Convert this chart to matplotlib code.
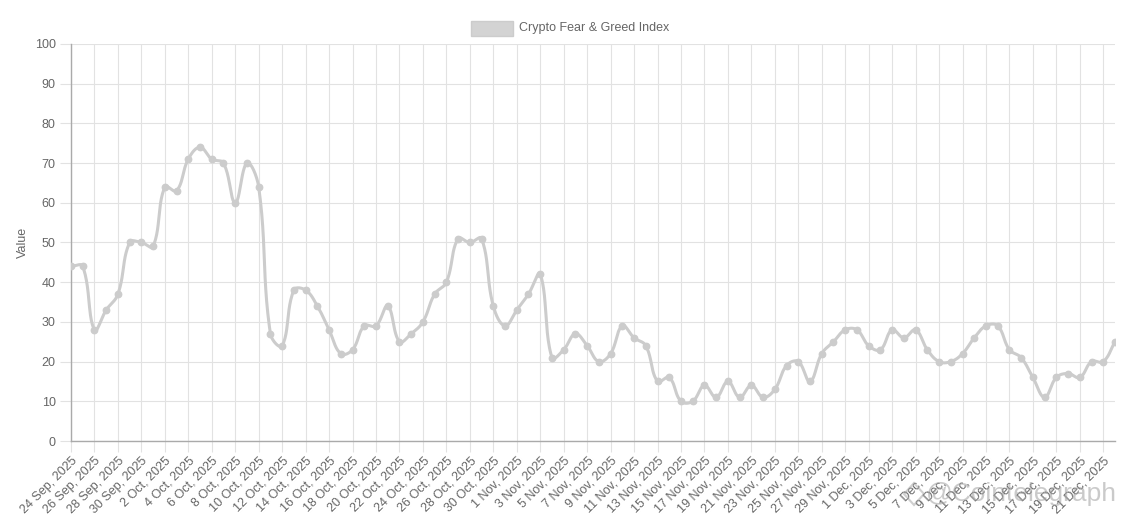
import numpy as np
import pandas as pd
import matplotlib
matplotlib.use("Agg")
import matplotlib.pyplot as plt
from matplotlib.patches import Rectangle, Polygon

plt.rcParams['font.family'] = ['Liberation Sans', 'DejaVu Sans']

# daily index values, 24 Sep 2025 .. 22 Dec 2025
dates = pd.date_range("2025-09-24", periods=90, freq="D")
values = [44, 44, 28, 33, 37, 50, 50, 49, 64, 63,
          71, 74, 71, 70, 60, 70, 64, 27, 24, 38,
          38, 34, 28, 22, 23, 29, 29, 34, 25, 27,
          30, 37, 40, 51, 50, 51, 34, 29, 33, 37,
          42, 21, 23, 27, 24, 20, 22, 29, 26, 24,
          15, 16, 10, 10, 14, 11, 15, 11, 14, 11,
          13, 19, 20, 15, 22, 25, 28, 28, 24, 23,
          28, 26, 28, 23, 20, 20, 22, 26, 29, 29,
          23, 21, 16, 11, 16, 17, 16, 20, 20, 25]
labels = [f"{d.day} {d.strftime('%b')}, {d.year}" for d in dates]
series_name = "Crypto Fear & Greed Index"

line_col = "#cccccc"
text_col = "#666666"
grid_col = "#e2e2e2"
axis_col = "#aaaaaa"


def chartjs_spline(px, py, t=0.4):
	# bezier control points like chart.js (tension 0.4), in pixel space
	n = len(px)
	cprev = np.zeros((n, 2))
	cnext = np.zeros((n, 2))
	for i in range(n):
		a = max(i - 1, 0)
		b = min(i + 1, n - 1)
		d01 = np.hypot(px[i] - px[a], py[i] - py[a])
		d12 = np.hypot(px[b] - px[i], py[b] - py[i])
		tot = d01 + d12
		s01 = d01 / tot if tot else 0
		s12 = d12 / tot if tot else 0
		fa, fb = t * s01, t * s12
		cprev[i] = (px[i] - fa * (px[b] - px[a]), py[i] - fa * (py[b] - py[a]))
		cnext[i] = (px[i] + fb * (px[b] - px[a]), py[i] + fb * (py[b] - py[a]))
	u = np.linspace(0, 1, 25)[:, None]
	out = []
	for i in range(n - 1):
		p0 = np.array([px[i], py[i]])
		p3 = np.array([px[i + 1], py[i + 1]])
		p1, p2 = cnext[i], cprev[i + 1]
		seg = (1 - u) ** 3 * p0 + 3 * (1 - u) ** 2 * u * p1 + 3 * (1 - u) * u ** 2 * p2 + u ** 3 * p3
		out.append(seg if i == 0 else seg[1:])
	return np.vstack(out)


fig = plt.figure(figsize=(11.27, 5.18), dpi=100)
ax = fig.add_axes([71 / 1127, 1 - 441 / 518, (1115 - 71) / 1127, (441 - 44) / 518])

x = np.arange(len(values))
ax.set_xlim(0, len(values) - 1)
ax.set_ylim(0, 100)

pts = ax.transData.transform(np.column_stack([x, values]))
curve = ax.transData.inverted().transform(chartjs_spline(pts[:, 0], pts[:, 1]))
ax.plot(curve[:, 0], curve[:, 1], color=line_col, lw=2.2, solid_capstyle="round", zorder=3)
ax.plot(x, values, "o", color=line_col, ms=4.6, zorder=4)

ax.set_yticks(np.arange(0, 101, 10))
ax.set_xticks(x[::2])
ax.set_xticklabels(labels[::2], rotation=45, ha="right", rotation_mode="anchor")
ax.grid(True, color=grid_col, lw=0.8)
ax.set_axisbelow(True)
ax.tick_params(axis="both", colors=grid_col, labelcolor=text_col, labelsize=9, length=8, width=0.8)
ax.tick_params(axis="x", pad=2)
ax.tick_params(axis="y", pad=3)

for s in ["top", "right"]:
	ax.spines[s].set_visible(False)
for s in ["left", "bottom"]:
	ax.spines[s].set_color(axis_col)
	ax.spines[s].set_linewidth(1.0)

ax.set_ylabel("Value", color=text_col, fontsize=9, labelpad=4)

# legend as chart.js draws it
fig.add_artist(Rectangle((471 / 1127, 1 - 36 / 518), 42 / 1127, 15 / 518,
                         transform=fig.transFigure, facecolor="#d3d3d3", edgecolor="#cccccc", lw=1))
fig.text(519 / 1127, 1 - 28 / 518, series_name, color=text_col, fontsize=9, va="center", ha="left")

# watermark
fig.add_artist(Polygon([(904 / 1127, 1 - 494 / 518), (914 / 1127, 1 - 483 / 518),
                        (924 / 1127, 1 - 494 / 518), (914 / 1127, 1 - 505 / 518)],
                       closed=True, transform=fig.transFigure, fill=False,
                       edgecolor="#a0a0a0", alpha=0.5, lw=1.5))
fig.text(926 / 1127, 1 - 494 / 518, "@Cointelegraph", color="#a0a0a0", alpha=0.55,
         fontsize=19, va="center", ha="left")

fig.savefig("out.png", dpi=100)
